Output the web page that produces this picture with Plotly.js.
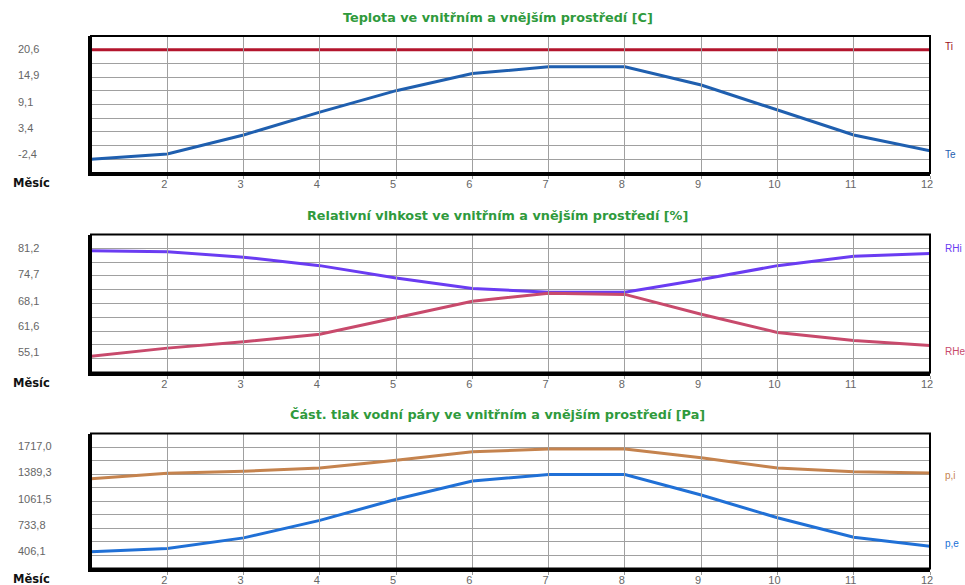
<!DOCTYPE html>
<html>
<head>
<meta charset="utf-8">
<script src="https://cdn.plot.ly/plotly-3.0.1.min.js"></script>
<style>
  html, body { margin: 0; padding: 0; background: #ffffff; }
  #chart { width: 965px; height: 585px; }
</style>
</head>
<body>
<div id="chart"></div>
<script>
// ---------- data ----------
const months = [1, 2, 3, 4, 5, 6, 7, 8, 9, 10, 11, 12];
const monthTicks = [2, 3, 4, 5, 6, 7, 8, 9, 10, 11, 12];

const Ti = [20.6, 20.6, 20.6, 20.6, 20.6, 20.6, 20.6, 20.6, 20.6, 20.6, 20.6, 20.6];
const Te = [-2.4, -1.3, 2.7, 7.5, 12.0, 15.6, 17.0, 17.0, 13.2, 7.9, 2.7, -0.6];

const RHi = [80.6, 80.4, 79.1, 77.1, 74.2, 71.7, 70.8, 70.8, 73.8, 77.1, 79.3, 80.0];
const RHe = [55.7, 57.6, 59.1, 60.9, 64.8, 68.7, 70.6, 70.3, 65.6, 61.3, 59.4, 58.2];

const pi = [1331, 1398, 1422, 1461, 1555, 1658, 1693, 1693, 1587, 1461, 1417, 1402];
const pe = [445, 484, 614, 826, 1083, 1304, 1382, 1382, 1134, 858, 622, 512];

const tempTicks = [-2.4, 3.4, 9.1, 14.9, 20.6];
const rhTicks = [55.1, 61.6, 68.1, 74.7, 81.2];
const pTicks = [406.1, 733.8, 1061.5, 1389.3, 1717.0];

const titles = [
  'Teplota ve vnitřním a vnějším prostředí [C]',
  'Relativní vlhkost ve vnitřním a vnějším prostředí [%]',
  'Část. tlak vodní páry ve vnitřním a vnějším prostředí [Pa]'
];
const seriesNames = ['Ti', 'Te', 'RHi', 'RHe', 'p,i', 'p,e'];
const xLabel = 'Měsíc';

// ---------- layout helpers ----------
const W = 965, H = 585;
const FONT = 'Arial, "Liberation Sans", sans-serif';
const WIDE = '"DejaVu Sans", Verdana, sans-serif';
const fy = px => 1 - px / H;
const fx = px => px / W;
const fmt = v => v.toFixed(1).replace('.', ',');

// panel pixel boxes (top, bottom)
const panels = [
  { top: 36, bot: 173, ticks: tempTicks, lblTop: 49, lblBot: 154.5 },
  { top: 234.5, bot: 372.5, ticks: rhTicks, lblTop: 248.5, lblBot: 352.5 },
  { top: 433.5, bot: 568.5, ticks: pTicks, lblTop: 446.5, lblBot: 551 }
];

const colors = {
  Ti: '#b3152d', Te: '#1f5faf',
  RHi: '#6a3cf2', RHe: '#c84a6c',
  pi: '#c5834e', pe: '#2070d6'
};

const layout = {
  width: W, height: H,
  margin: { l: 0, r: 0, t: 0, b: 0 },
  paper_bgcolor: '#ffffff',
  plot_bgcolor: 'rgba(0,0,0,0)',
  showlegend: false,
  font: { family: FONT, size: 11, color: '#555' },
  annotations: [],
  shapes: []
};

const xd = [fx(91), fx(930)];

panels.forEach((p, i) => {
  const n = i + 1;
  const xk = n === 1 ? 'xaxis' : 'xaxis' + n;
  const yk = n === 1 ? 'yaxis' : 'yaxis' + n;
  const xr = n === 1 ? 'x' : 'x' + n;
  const yr = n === 1 ? 'y' : 'y' + n;
  const tks = p.ticks;
  const half = (tks[tks.length - 1] - tks[0]) / 8;

  layout[xk] = {
    domain: xd, anchor: yr, range: [1, 12],
    tickvals: monthTicks, ticktext: monthTicks.map(String),
    ticks: 'outside', ticklen: 3, tickcolor: '#999', tickwidth: 1,
    showgrid: true, gridcolor: '#a0a0a0', gridwidth: 1,
    showline: true, linecolor: '#000', linewidth: 3, mirror: false,
    zeroline: false, ticklabelshift: -3, ticklabelstandoff: -4,
    tickfont: { family: FONT, size: 11, color: '#666' }
  };
  layout[yk] = {
    domain: [fy(p.bot), fy(p.top)], anchor: xr,
    range: [tks[0] - half, tks[tks.length - 1] + half],
    tick0: tks[0], dtick: half,
    showticklabels: false, ticks: '',
    showgrid: true, gridcolor: '#a0a0a0', gridwidth: 1,
    showline: true, linecolor: '#000', linewidth: 3, mirror: false,
    zeroline: false
  };

  // label axis (left-aligned tick labels, like the reference)
  const lk = 'yaxis' + (n + 3);
  const vTop = tks[tks.length - 1], vBot = tks[0];
  const pad = (vTop - vBot) * 0.12;
  const ppu = (p.lblBot - p.lblTop) / (vTop - vBot);
  layout[lk] = {
    domain: [fy(p.lblBot + pad * ppu), fy(p.lblTop - pad * ppu)],
    anchor: 'free', position: fx(14), side: 'left',
    range: [vBot - pad, vTop + pad],
    tickvals: tks, ticktext: tks.map(fmt),
    ticklabelposition: 'inside', ticks: '',
    showgrid: false, showline: false, zeroline: false,
    tickfont: { family: FONT, size: 11, color: '#666' }
  };

  // top & right frame edges
  layout.shapes.push({
    type: 'rect', xref: xr + ' domain', yref: yr + ' domain',
    x0: 0, x1: 1, y0: 0, y1: 1,
    line: { color: '#000', width: 2 }, fillcolor: 'rgba(0,0,0,0)'
  });

  // title
  layout.annotations.push({
    text: titles[i], xref: 'paper', yref: 'paper',
    x: fx(498), y: fy(p.top - 19), xanchor: 'center', yanchor: 'middle',
    showarrow: false,
    font: { family: WIDE, size: 12.8, color: '#2f9a3c', weight: 'bold' }
  });
  // x label
  layout.annotations.push({
    text: xLabel, xref: 'paper', yref: 'paper',
    x: fx(11), y: fy(p.bot + 10), xanchor: 'left', yanchor: 'middle',
    showarrow: false,
    font: { family: WIDE, size: 11.5, color: '#111', weight: 'bold' }
  });
});

function line(x, y, xa, ya, color, name) {
  return { x: x, y: y, xaxis: xa, yaxis: ya, type: 'scatter', mode: 'lines',
           name: name, line: { color: color, width: 3 }, hoverinfo: 'skip' };
}

const traces = [
  // empty traces so the label axes are created (drawn first, underneath)
  { x: [], y: [], xaxis: 'x', yaxis: 'y4', type: 'scatter', mode: 'lines', hoverinfo: 'skip' },
  { x: [], y: [], xaxis: 'x2', yaxis: 'y5', type: 'scatter', mode: 'lines', hoverinfo: 'skip' },
  { x: [], y: [], xaxis: 'x3', yaxis: 'y6', type: 'scatter', mode: 'lines', hoverinfo: 'skip' },
  line(months, Ti, 'x', 'y', colors.Ti, seriesNames[0]),
  line(months, Te, 'x', 'y', colors.Te, seriesNames[1]),
  line(months, RHi, 'x2', 'y2', colors.RHi, seriesNames[2]),
  line(months, RHe, 'x2', 'y2', colors.RHe, seriesNames[3]),
  line(months, pi, 'x3', 'y3', colors.pi, seriesNames[4]),
  line(months, pe, 'x3', 'y3', colors.pe, seriesNames[5])
];

// series end labels, anchored to last data value via axis scales
const endLabels = [
  { t: seriesNames[0], y: Ti[11], yr: 'y', c: '#9a1020', dy: -3 },
  { t: seriesNames[1], y: Te[11], yr: 'y', c: colors.Te, dy: 4 },
  { t: seriesNames[2], y: RHi[11], yr: 'y2', c: colors.RHi, dy: -5 },
  { t: seriesNames[3], y: RHe[11], yr: 'y2', c: colors.RHe, dy: 6 },
  { t: seriesNames[4], y: pi[11], yr: 'y3', c: colors.pi, dy: 3 },
  { t: seriesNames[5], y: pe[11], yr: 'y3', c: colors.pe, dy: -3 }
];
endLabels.forEach(l => {
  layout.annotations.push({
    text: l.t, xref: 'paper', yref: l.yr, x: fx(943), y: l.y,
    yshift: -l.dy, xanchor: 'left', yanchor: 'middle', showarrow: false,
    font: { family: FONT, size: 10, color: l.c }
  });
});

Plotly.newPlot('chart', traces, layout, { displayModeBar: false, staticPlot: true });
</script>
</body>
</html>
